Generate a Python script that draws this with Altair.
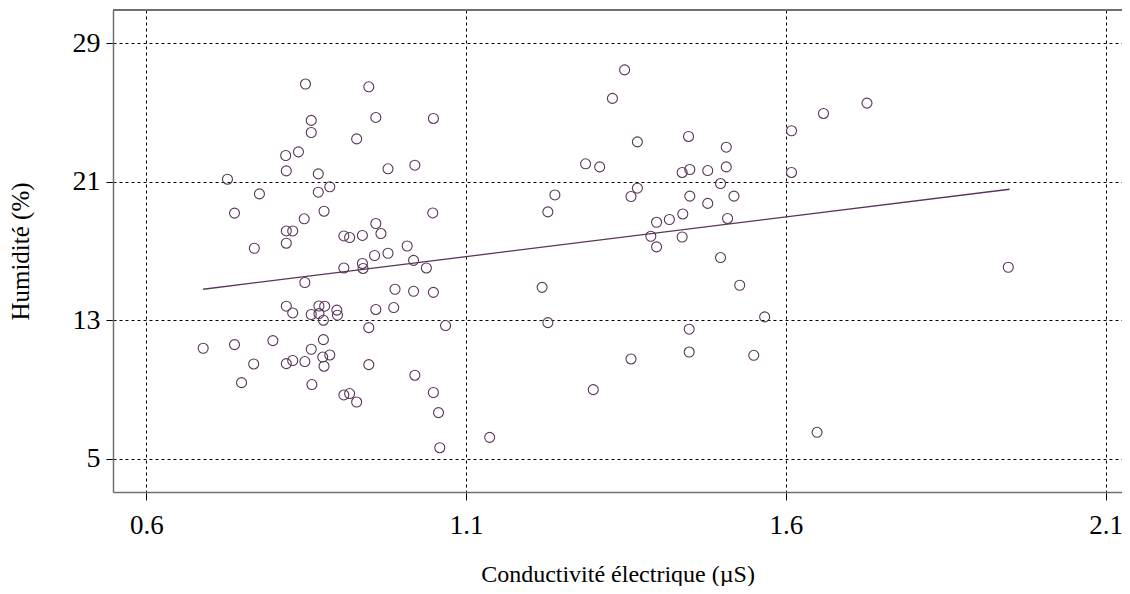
import altair as alt
import pandas as pd

conductivite = [
    0.849, 0.948, 0.858, 0.959, 1.049, 0.858, 0.929, 0.818, 0.838, 0.819,
    0.978, 1.020, 0.727, 0.869, 0.887, 0.869, 0.777, 0.738, 0.878, 0.847,
    1.048, 0.819, 0.829, 0.959, 0.819, 0.967, 0.909, 0.918, 0.938, 1.008,
    0.769, 0.957, 0.978, 1.018, 0.938, 0.939, 0.909, 1.038, 0.848, 0.989,
    1.018, 1.049, 0.819, 0.829, 0.870, 0.879, 0.858, 0.870, 0.877, 0.898,
    0.899, 0.959, 0.987, 0.948, 1.068, 0.689, 0.738, 0.798, 0.877, 0.858,
    0.768, 0.819, 0.829, 0.848, 0.876, 0.887, 0.878, 0.948, 0.749, 0.859,
    1.020, 0.909, 0.918, 0.929, 1.049, 1.057, 1.059,
    1.348, 1.329, 1.659, 1.609, 1.368, 1.448, 1.507, 1.287, 1.309, 1.438,
    1.450, 1.478, 1.507, 1.609, 1.498, 1.368, 1.358, 1.450, 1.519, 1.239,
    1.228, 1.478, 1.439, 1.509, 1.418, 1.398, 1.389, 1.438, 1.398, 1.498,
    1.219, 1.528, 1.228, 1.567, 1.449, 1.449, 1.358, 1.550, 1.299, 1.137,
    1.649, 1.727, 1.948,
]
humidite = [
    26.65, 26.49, 24.55, 24.72, 24.66, 23.85, 23.48, 22.52, 22.73, 21.63,
    21.75, 21.96, 21.15, 21.46, 20.71, 20.40, 20.30, 19.19, 19.30, 18.86,
    19.20, 18.16, 18.16, 18.59, 17.45, 18.01, 17.87, 17.78, 17.90, 17.29,
    17.16, 16.74, 16.87, 16.46, 16.28, 15.99, 16.02, 16.02, 15.18, 14.79,
    14.67, 14.61, 13.81, 13.42, 13.82, 13.81, 13.33, 13.38, 13.00, 13.58,
    13.29, 13.62, 13.73, 12.57, 12.69, 11.38, 11.59, 11.82, 11.88, 11.32,
    10.47, 10.49, 10.67, 10.61, 10.87, 10.99, 10.34, 10.43, 9.39, 9.28,
    9.82, 8.68, 8.76, 8.27, 8.82, 7.66, 5.63,
    27.47, 25.82, 24.95, 23.95, 23.31, 23.62, 23.00, 22.04, 21.86, 21.54,
    21.71, 21.65, 21.86, 21.54, 20.90, 20.63, 20.15, 20.17, 20.17, 20.24,
    19.26, 19.75, 19.14, 18.88, 18.82, 18.66, 17.85, 17.81, 17.24, 16.62,
    14.90, 15.02, 12.86, 13.19, 12.48, 11.16, 10.76, 10.97, 8.99, 6.23,
    6.52, 25.55, 16.06,
]

# fitted line end points
droite_x = [0.689, 1.950]
droite_y = [14.79, 20.57]

x_ticks = [0.6, 1.1, 1.6, 2.1]
y_ticks = [5, 13, 21, 29]

W, H = 1009, 482
FONT = "Liberation Serif"
PURPLE = "#5a355a"

pts = pd.DataFrame({"x": conductivite, "y": humidite})
line = pd.DataFrame({"x": droite_x, "y": droite_y})

xscale = alt.Scale(domain=[0.548, 2.1258], nice=False, zero=False)
yscale = alt.Scale(domain=[3.07, 30.93], nice=False, zero=False)

xaxis = alt.Axis(
    values=x_ticks, format=".1f", title="Conductivité électrique (µS)",
    grid=True, gridDash=[3, 3], gridColor="black", gridWidth=1, gridOpacity=1,
    domain=True, domainColor="#707070", domainWidth=1.5,
    ticks=True, tickColor="black", tickSize=8, tickWidth=1,
    labelFont=FONT, labelFontSize=27, labelColor="black", labelPadding=12,
    titleFont=FONT, titleFontSize=24, titleFontWeight="normal", titleColor="black",
    titlePadding=24, labelFlush=False, labelBound=False,
)
yaxis = alt.Axis(
    values=y_ticks, format="d", title="Humidité (%)",
    grid=True, gridDash=[3, 3], gridColor="black", gridWidth=1, gridOpacity=1,
    domain=True, domainColor="#707070", domainWidth=1.5,
    ticks=True, tickColor="black", tickSize=7, tickWidth=1,
    labelFont=FONT, labelFontSize=28, labelColor="black", labelPadding=6,
    titleFont=FONT, titleFontSize=25, titleFontWeight="normal", titleColor="black",
    titlePadding=39, labelFlush=False,
)

points = alt.Chart(pts).mark_point(
    shape="circle", filled=False, size=100, stroke=PURPLE, strokeWidth=1.1, opacity=1
).encode(
    x=alt.X("x:Q", scale=xscale, axis=xaxis),
    y=alt.Y("y:Q", scale=yscale, axis=yaxis),
)

fit = alt.Chart(line).mark_line(color=PURPLE, strokeWidth=1.3).encode(
    x=alt.X("x:Q", scale=xscale),
    y=alt.Y("y:Q", scale=yscale),
)

top = alt.Chart(pts).mark_rule(color="#707070", strokeWidth=1.5).encode(
    x=alt.value(0), x2=alt.value(W + 10), y=alt.value(0)
)

chart = alt.layer(points, fit, top).properties(
    width=W, height=H,
    autosize=alt.AutoSizeParams(type="none"),
    padding={"left": 105, "top": 2, "right": 0, "bottom": 94},
).configure_view(stroke=None).configure(background="white")

chart.save("out.html", embed_options={"renderer": "svg", "actions": False})
